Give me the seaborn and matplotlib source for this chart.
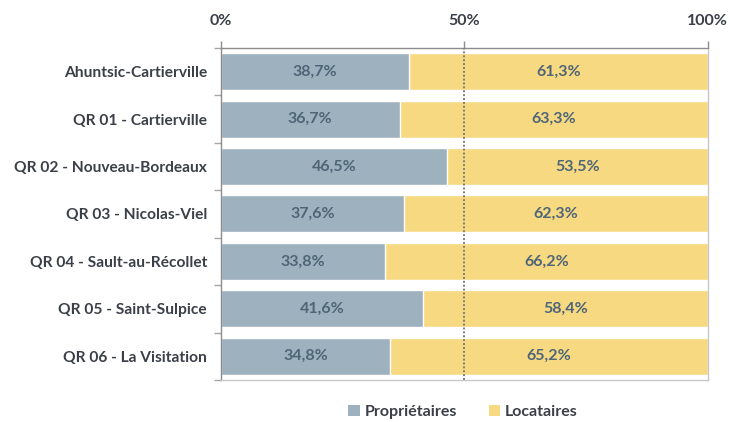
import matplotlib
matplotlib.use("Agg")
import matplotlib.pyplot as plt
import seaborn as sns
import pandas as pd
from matplotlib.patches import Patch
from matplotlib.ticker import FixedLocator

categories = [
    "Ahuntsic-Cartierville",
    "QR 01 - Cartierville",
    "QR 02 - Nouveau-Bordeaux",
    "QR 03 - Nicolas-Viel",
    "QR 04 - Sault-au-Récollet",
    "QR 05 - Saint-Sulpice",
    "QR 06 - La Visitation",
]
proprietaires = [38.7, 36.7, 46.5, 37.6, 33.8, 41.6, 34.8]
locataires = [61.3, 63.3, 53.5, 62.3, 66.2, 58.4, 65.2]
x_ticks = [0, 50, 100]
x_tick_labels = ["0%", "50%", "100%"]
series_names = ["Propriétaires", "Locataires"]

BLUE = "#9EB1BF"
YELLOW = "#F7D981"
LABEL_C = "#4E6578"
TEXT_C = "#3B3F48"

sns.set_theme(style="white")
plt.rcParams["font.family"] = ["Lato", "DejaVu Sans"]
plt.rcParams["font.weight"] = "bold"

df = pd.DataFrame({
    "cat": categories,
    "prop": proprietaires,
    "loc": locataires,
})
# 100% stacked: normalise each row to its sum
df["sum"] = df["prop"] + df["loc"]
df["prop_n"] = df["prop"] / df["sum"] * 100
df["total_n"] = df["sum"] / df["sum"] * 100

fig = plt.figure(figsize=(7.29, 4.22), dpi=100)
ax = fig.add_axes([0.303, 0.0995, 0.668, 0.787])

sns.barplot(data=df, y="cat", x="total_n", color=YELLOW, saturation=1,
            width=0.78, ax=ax, orient="h")
sns.barplot(data=df, y="cat", x="prop_n", color=BLUE, saturation=1,
            width=0.78, ax=ax, orient="h")

for i, row in df.iterrows():
    pn = row["prop_n"]
    ax.text(pn / 2, i, f"{row['prop']:.1f}%".replace(".", ","), ha="center",
            va="center", fontsize=11.5, color=LABEL_C, fontweight="bold")
    ax.text(pn + (100 - pn) / 2, i, f"{row['loc']:.1f}%".replace(".", ","),
            ha="center", va="center", fontsize=11.5, color=LABEL_C,
            fontweight="bold")

ax.axvline(50, color="#7F7F7F", linestyle=(0, (1.0, 1.0)), linewidth=1.4, zorder=5)

ax.set_xlim(0, 100)
ax.set_ylim(6.5, -0.5)
ax.xaxis.tick_top()
ax.set_xticks(x_ticks)
ax.set_xticklabels(x_tick_labels, fontsize=11.5, color=TEXT_C, fontweight="bold")
ax.tick_params(axis="x", which="major", direction="out", length=5, width=1,
               color="#8C8C8C", pad=9, top=True, bottom=False)
ax.set_xlabel("")
ax.set_ylabel("")

ax.set_yticks(range(len(categories)))
ax.set_yticklabels(categories, fontsize=11.2, color=TEXT_C, fontweight="bold")
ax.tick_params(axis="y", which="major", length=0, pad=10)
ax.yaxis.set_minor_locator(FixedLocator([i - 0.5 for i in range(len(categories) + 1)]))
ax.tick_params(axis="y", which="minor", left=True, direction="out", length=5,
               width=1, color="#A6A6A6")

for side in ["top", "left"]:
    ax.spines[side].set_color("#8C8C8C")
    ax.spines[side].set_linewidth(1)
for side in ["right", "bottom"]:
    ax.spines[side].set_color("#C8C8C8")
    ax.spines[side].set_linewidth(1)
for s in ax.spines.values():
    s.set_visible(True)

handles = [Patch(facecolor=BLUE, edgecolor="none", label=series_names[0]),
           Patch(facecolor=YELLOW, edgecolor="none", label=series_names[1])]
leg = fig.legend(handles=handles, loc="center", bbox_to_anchor=(0.635, 0.023),
                 ncol=2, frameon=False, fontsize=11.5, handlelength=0.7,
                 handleheight=0.7, handletextpad=0.3, columnspacing=2.0)
for t in leg.get_texts():
    t.set_color(TEXT_C)
    t.set_fontweight("bold")

fig.savefig("out.png", dpi=100)
